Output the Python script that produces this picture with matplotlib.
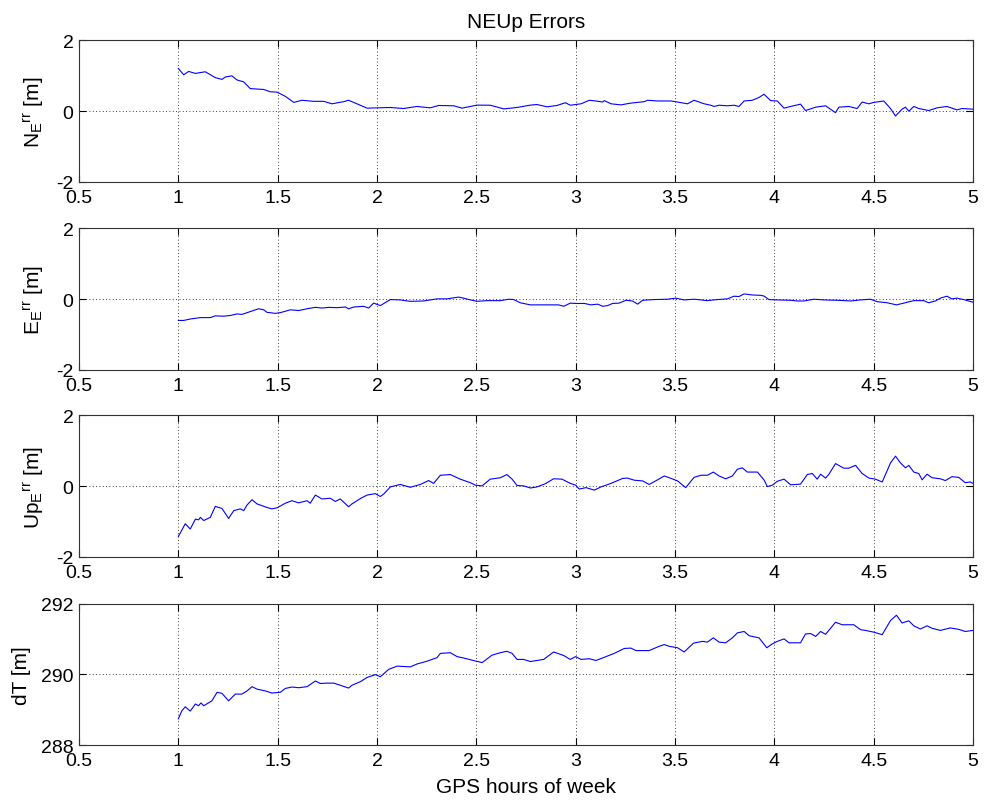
import numpy as np
import matplotlib
matplotlib.use('Agg')
import matplotlib.pyplot as plt

plt.rcParams['font.family'] = ['Liberation Sans', 'DejaVu Sans']
plt.rcParams['mathtext.default'] = 'regular'
plt.rcParams['axes.unicode_minus'] = False
plt.rcParams['font.size'] = 15

# North error
n_hours = [1.000, 1.027, 1.052, 1.086, 1.136, 1.186, 1.220, 1.237, 1.270, 1.295,
           1.329, 1.362, 1.430, 1.463, 1.497, 1.539, 1.581, 1.622, 1.681, 1.732,
           1.773, 1.832, 1.857, 1.899, 1.950, 2.000, 2.067, 2.134, 2.201, 2.268,
           2.310, 2.386, 2.428, 2.470, 2.503, 2.570, 2.638, 2.705, 2.772, 2.805,
           2.856, 2.906, 2.948, 2.973,
           3.000, 3.027, 3.069, 3.102, 3.136, 3.144, 3.178, 3.228, 3.278, 3.345,
           3.362, 3.412, 3.479, 3.513, 3.563, 3.596, 3.647, 3.680, 3.697, 3.722,
           3.764, 3.797, 3.822, 3.848, 3.889, 3.923, 3.948, 3.982, 4.015, 4.049,
           4.082, 4.132, 4.157, 4.208, 4.258, 4.308, 4.325, 4.375, 4.417, 4.442,
           4.476, 4.501, 4.551, 4.585, 4.610, 4.643, 4.660, 4.677, 4.702, 4.727,
           4.777, 4.819, 4.869, 4.920, 4.945, 5.000]
n_err = [1.21, 1.03, 1.125, 1.07, 1.115, 0.95, 0.90, 0.97, 1.00, 0.885,
         0.83, 0.64, 0.615, 0.55, 0.54, 0.42, 0.25, 0.31, 0.28, 0.28,
         0.21, 0.27, 0.31, 0.21, 0.087, 0.096, 0.106, 0.077, 0.135, 0.096,
         0.163, 0.154, 0.087, 0.135, 0.173, 0.17, 0.067, 0.106, 0.173, 0.19,
         0.125, 0.163, 0.24, 0.17,
         0.19, 0.21, 0.31, 0.29, 0.26, 0.30, 0.21, 0.18, 0.23, 0.27,
         0.31, 0.29, 0.29, 0.26, 0.21, 0.31, 0.21, 0.17, 0.135, 0.17,
         0.154, 0.17, 0.135, 0.29, 0.31, 0.39, 0.48, 0.30, 0.29, 0.087,
         0.135, 0.20, 0.02, 0.115, 0.154, -0.04, 0.115, 0.135, 0.077, 0.26,
         0.21, 0.25, 0.29, 0.077, -0.135, 0.058, 0.115, 0.0, 0.135, 0.077,
         0.02, 0.096, 0.135, 0.038, 0.077, 0.058]

# East error
e_hours = [1.000, 1.027, 1.060, 1.111, 1.161, 1.186, 1.228, 1.262, 1.295, 1.320,
           1.362, 1.404, 1.430, 1.446, 1.488, 1.513, 1.564, 1.606, 1.648, 1.690,
           1.723, 1.757, 1.799, 1.841, 1.857, 1.883, 1.933, 1.958, 1.983, 2.017,
           2.067, 2.117, 2.168, 2.235, 2.302, 2.352, 2.411, 2.436, 2.470, 2.503,
           2.554, 2.621, 2.663, 2.688, 2.721, 2.772, 2.839, 2.914, 2.940, 2.973,
           3.000, 3.044, 3.077, 3.111, 3.136, 3.161, 3.186, 3.219, 3.253, 3.286,
           3.312, 3.337, 3.395, 3.462, 3.504, 3.546, 3.596, 3.663, 3.714, 3.764,
           3.797, 3.822, 3.848, 3.889, 3.931, 3.948, 3.973, 4.015, 4.082, 4.116,
           4.149, 4.199, 4.250, 4.317, 4.384, 4.434, 4.484, 4.518, 4.568, 4.615,
           4.652, 4.702, 4.752, 4.777, 4.811, 4.836, 4.869, 4.894, 4.920, 4.953,
           5.000]
e_err = [-0.60, -0.60, -0.56, -0.52, -0.52, -0.47, -0.48, -0.46, -0.415, -0.43,
         -0.35, -0.27, -0.30, -0.37, -0.40, -0.38, -0.30, -0.32, -0.27, -0.23,
         -0.25, -0.23, -0.24, -0.22, -0.27, -0.22, -0.20, -0.25, -0.11, -0.18,
         -0.01, -0.02, -0.06, -0.05, 0.01, 0.01, 0.06, 0.03, -0.02, -0.06,
         -0.04, -0.04, 0.0, -0.01, -0.10, -0.16, -0.16, -0.16, -0.20, -0.11,
         -0.12, -0.12, -0.16, -0.14, -0.20, -0.18, -0.12, -0.11, -0.03, -0.05,
         -0.14, -0.03, -0.01, 0.0, 0.03, -0.02, 0.0, -0.04, -0.01, 0.01,
         0.085, 0.075, 0.15, 0.12, 0.11, 0.09, -0.01, -0.02, -0.03, -0.05,
         -0.05, 0.0, -0.02, -0.03, -0.05, -0.02, 0.0, -0.07, -0.10, -0.16,
         -0.11, -0.04, -0.04, -0.10, -0.05, 0.03, 0.085, 0.01, 0.03, -0.01,
         -0.085]

# Up error
up_hours = [1.000, 1.010, 1.035, 1.060, 1.086, 1.102, 1.111, 1.128, 1.161, 1.186,
            1.220, 1.253, 1.279, 1.312, 1.329, 1.346, 1.371, 1.396, 1.446, 1.471,
            1.497, 1.539, 1.572, 1.606, 1.648, 1.664, 1.690, 1.723, 1.765, 1.790,
            1.815, 1.857, 1.874, 1.916, 1.950, 1.992, 2.017, 2.034, 2.067, 2.117,
            2.168, 2.218, 2.260, 2.285, 2.319, 2.369, 2.419, 2.470, 2.495, 2.529,
            2.570, 2.621, 2.654, 2.680, 2.705, 2.738, 2.772, 2.805, 2.847, 2.889,
            2.931, 2.973,
            3.000, 3.018, 3.052, 3.094, 3.127, 3.178, 3.203, 3.236, 3.261, 3.295,
            3.337, 3.370, 3.412, 3.446, 3.471, 3.513, 3.554, 3.596, 3.630, 3.663,
            3.693, 3.722, 3.755, 3.789, 3.814, 3.839, 3.864, 3.915, 3.948, 3.965,
            3.990, 4.015, 4.049, 4.082, 4.132, 4.166, 4.191, 4.216, 4.233, 4.258,
            4.275, 4.308, 4.350, 4.375, 4.409, 4.442, 4.476, 4.509, 4.543, 4.585,
            4.610, 4.635, 4.660, 4.677, 4.702, 4.727, 4.744, 4.769, 4.794, 4.836,
            4.861, 4.894, 4.928, 4.961, 4.987, 5.000]
up_err = [-1.42, -1.32, -1.06, -1.21, -0.93, -0.95, -0.88, -0.97, -0.88, -0.57,
          -0.63, -0.91, -0.69, -0.64, -0.69, -0.53, -0.38, -0.50, -0.60, -0.64,
          -0.61, -0.48, -0.41, -0.47, -0.41, -0.48, -0.25, -0.36, -0.34, -0.43,
          -0.36, -0.58, -0.50, -0.35, -0.25, -0.21, -0.29, -0.22, -0.02, 0.05,
          -0.03, 0.05, 0.16, 0.08, 0.31, 0.33, 0.20, 0.10, 0.03, 0.01,
          0.20, 0.24, 0.33, 0.20, 0.02, 0.01, -0.05, -0.02, 0.07, 0.21,
          0.20, 0.08,
          0.03, -0.08, -0.04, -0.11, -0.02, 0.08, 0.14, 0.22, 0.23, 0.17,
          0.15, 0.05, 0.18, 0.29, 0.24, 0.15, -0.04, 0.25, 0.31, 0.31,
          0.40, 0.29, 0.21, 0.29, 0.48, 0.52, 0.40, 0.40, 0.18, -0.01,
          0.03, 0.14, 0.20, 0.04, 0.06, 0.33, 0.36, 0.20, 0.34, 0.23,
          0.34, 0.64, 0.51, 0.51, 0.59, 0.36, 0.23, 0.20, 0.12, 0.66,
          0.85, 0.66, 0.52, 0.59, 0.40, 0.36, 0.18, 0.34, 0.24, 0.21,
          0.16, 0.27, 0.25, 0.10, 0.12, 0.08]

# Clock bias
dt_hours = [1.000, 1.018, 1.035, 1.060, 1.086, 1.102, 1.114, 1.128, 1.169, 1.195,
            1.220, 1.253, 1.287, 1.320, 1.346, 1.371, 1.396, 1.438, 1.471, 1.513,
            1.539, 1.572, 1.606, 1.648, 1.690, 1.715, 1.748, 1.782, 1.815, 1.857,
            1.874, 1.916, 1.950, 1.992, 2.017, 2.059, 2.101, 2.168, 2.201, 2.252,
            2.302, 2.319, 2.369, 2.403, 2.436, 2.478, 2.529, 2.579, 2.621, 2.654,
            2.680, 2.705, 2.738, 2.772, 2.805, 2.839, 2.889, 2.940, 2.973,
            3.000, 3.027, 3.069, 3.102, 3.144, 3.194, 3.245, 3.278, 3.303, 3.370,
            3.420, 3.446, 3.471, 3.513, 3.546, 3.593, 3.638, 3.663, 3.693, 3.722,
            3.755, 3.789, 3.814, 3.848, 3.873, 3.923, 3.962, 3.990, 4.015, 4.049,
            4.074, 4.132, 4.157, 4.183, 4.208, 4.233, 4.258, 4.308, 4.342, 4.400,
            4.434, 4.459, 4.501, 4.543, 4.585, 4.615, 4.643, 4.677, 4.702, 4.735,
            4.769, 4.794, 4.836, 4.886, 4.928, 4.961, 5.000]
dt_m = [288.74, 288.97, 289.08, 288.96, 289.16, 289.11, 289.19, 289.11, 289.25, 289.49,
        289.46, 289.25, 289.44, 289.44, 289.53, 289.65, 289.58, 289.53, 289.47, 289.49,
        289.60, 289.64, 289.62, 289.65, 289.81, 289.74, 289.75, 289.75, 289.69, 289.61,
        289.69, 289.79, 289.91, 289.99, 289.93, 290.14, 290.23, 290.21, 290.29, 290.37,
        290.47, 290.59, 290.61, 290.50, 290.46, 290.40, 290.33, 290.54, 290.61, 290.65,
        290.59, 290.42, 290.42, 290.36, 290.39, 290.42, 290.63, 290.53, 290.42,
        290.50, 290.42, 290.44, 290.39, 290.48, 290.59, 290.73, 290.74, 290.67, 290.67,
        290.79, 290.84, 290.79, 290.75, 290.63, 290.88, 290.93, 290.91, 291.03, 290.91,
        290.89, 291.03, 291.17, 291.21, 291.09, 291.03, 290.75, 290.86, 290.93, 291.00,
        290.89, 290.89, 291.14, 291.15, 291.07, 291.21, 291.13, 291.47, 291.40, 291.40,
        291.26, 291.24, 291.19, 291.12, 291.52, 291.67, 291.45, 291.51, 291.37, 291.28,
        291.37, 291.30, 291.24, 291.31, 291.27, 291.21, 291.24]

# matlab draws N_Err as N, subscript E, then a slightly raised "rr"
series = [
    (n_hours, n_err, r'$\mathregular{N_E{}^{rr}}$ [m]', (-2, 2), [-2, 0, 2]),
    (e_hours, e_err, r'$\mathregular{E_E{}^{rr}}$ [m]', (-2, 2), [-2, 0, 2]),
    (up_hours, up_err, r'$\mathregular{Up_E{}^{rr}}$ [m]', (-2, 2), [-2, 0, 2]),
    (dt_hours, dt_m, 'dT [m]', (288, 292), [288, 290, 292]),
]

fig = plt.figure(figsize=(9.85, 8.04), dpi=100)
left, width, h = 0.0802, 0.9076, 0.176
bottoms = [0.7724, 0.5386, 0.3060, 0.0721]

for i, (xs, ys, label, ylim, yticks) in enumerate(series):
    ax = fig.add_axes([left, bottoms[i], width, h])
    ax.plot(xs, ys, color=(0, 0, 1), lw=0.8)
    ax.set_xlim(0.5, 5)
    ax.set_ylim(*ylim)
    ax.set_xticks(np.arange(0.5, 5.01, 0.5))
    ax.set_xticklabels(['0.5', '1', '1.5', '2', '2.5', '3', '3.5', '4', '4.5', '5'])
    ax.set_yticks(yticks)
    ax.grid(True, color='black', linestyle=(0, (1, 3)), linewidth=0.6)
    ax.tick_params(direction='in', top=True, right=True, length=5, width=0.8,
                   labelsize=14)
    ax.tick_params(axis='x', pad=5)
    ax.tick_params(axis='y', pad=4)
    for s in ax.spines.values():
        s.set_linewidth(0.8)
        s.set_color('#333333')
    ax.set_ylabel(label, fontsize=15, labelpad=7)
    if i == 0:
        ax.set_title('NEUp Errors', fontsize=15, pad=10)
    if i == 3:
        ax.set_xlabel('GPS hours of week', fontsize=15, labelpad=6)

fig.savefig('out.png', dpi=100)
